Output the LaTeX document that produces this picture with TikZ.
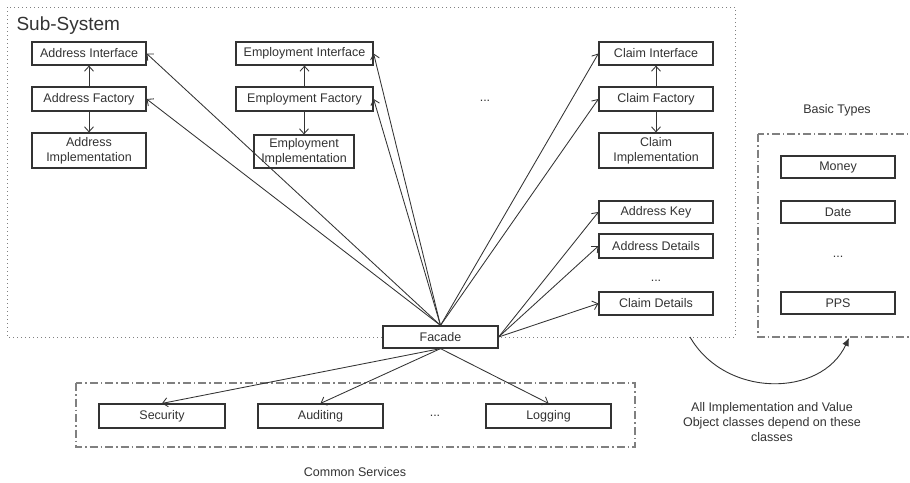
\documentclass[tikz,border=0pt]{standalone}
\usepackage{fontspec}
\setmainfont{Liberation Sans}
\usetikzlibrary{arrows.meta}
\definecolor{ink}{HTML}{333333}
\tikzset{
  box/.style={draw=ink, line width=1.2pt, fill=white, text=ink, inner sep=1pt, align=center,
    font=\fontsize{12.5}{15}\selectfont, minimum width=114pt, minimum height=23pt},
  lbl/.style={text=ink, align=center, font=\fontsize{12.5}{15}\selectfont},
  dep/.style={draw=ink, line width=0.85pt, -{Straight Barb[length=5pt,width=9pt]}},
  dotbox/.style={draw=gray, line width=1pt, dash pattern=on 1pt off 3pt},
  dashdot/.style={draw=gray, line width=1.2pt, dash pattern=on 8pt off 3pt on 1.5pt off 3pt}
}
\begin{document}
\begin{tikzpicture}[x=1pt, y=-1pt]
\useasboundingbox (0,0) rectangle (910,482);
\clip (0,0) rectangle (910,482);
\fill[white] (0,0) rectangle (910,482);
% containers
\draw[dotbox] (7,7) rectangle (735,337);
\draw[dashdot] (758,134) rectangle (930,337);
\draw[dashdot] (76,383) rectangle (635,447);
\node[lbl, font=\fontsize{19}{22}\selectfont, anchor=west] (subsys) at (13,26) {Sub-System};
\node[lbl] (basiclbl) at (837,110) {Basic Types};
\node[lbl] (commonlbl) at (355,472) {Common Services};
% sub-system nodes
\node[box] (addrI) at (89,53.5) {Address Interface};
\node[box, minimum height=24pt] (addrF) at (89,99) {Address Factory};
\node[box, minimum height=35pt] (addrImpl) at (89,150.5) {Address\\Implementation};
\node[box, minimum width=137pt] (empI) at (304.5,53.5) {Employment Interface};
\node[box, minimum width=137pt, minimum height=24pt] (empF) at (304.5,99) {Employment Factory};
\node[box, minimum width=100pt, minimum height=33pt] (empImpl) at (304,151.5) {Employment\\Implementation};
\node[lbl] (dotsA) at (485,101) {...};
\node[box] (claimI) at (656,53.5) {Claim Interface};
\node[box, minimum height=24pt] (claimF) at (656,99) {Claim Factory};
\node[box, minimum height=35pt] (claimImpl) at (656,150.5) {Claim\\Implementation};
\node[box, minimum height=22pt] (addrKey) at (656,212) {Address Key};
\node[box, minimum height=24pt] (addrDet) at (656,246) {Address Details};
\node[lbl] (dotsB) at (656,281) {...};
\node[box] (claimDet) at (656,303.5) {Claim Details};
\node[box, minimum width=115pt, minimum height=22pt] (facade) at (440.5,337) {Facade};
% basic types
\node[box, minimum height=22pt] (money) at (838,167) {Money};
\node[box, minimum height=22pt] (date) at (838,212) {Date};
\node[lbl] (dotsC) at (838,257) {...};
\node[box, minimum height=22pt] (pps) at (838,303) {PPS};
% common services
\node[box, minimum width=126pt, minimum height=24pt] (security) at (162,416) {Security};
\node[box, minimum width=125pt, minimum height=24pt] (auditing) at (320.5,416) {Auditing};
\node[lbl] (dotsD) at (435,416) {...};
\node[box, minimum width=125pt, minimum height=24pt] (logging) at (548.5,416) {Logging};
% factory arrows
\draw[dep] (addrF) -- (addrI);
\draw[dep] (addrF) -- (addrImpl);
\draw[dep] (empF) -- (empI);
\draw[dep] (empF.south -| empImpl.north) -- (empImpl);
\draw[dep] (claimF) -- (claimI);
\draw[dep] (claimF) -- (claimImpl);
% facade arrows
\draw[dep] (facade.north) -- (addrI.east);
\draw[dep] (facade.north) -- (addrF.east);
\draw[dep] (facade.north) -- (empI.east);
\draw[dep] (facade.north) -- (empF.east);
\draw[dep] (facade.north) -- (claimI.west);
\draw[dep] (facade.north) -- (claimF.west);
\draw[dep] (facade.east) -- (addrKey.west);
\draw[dep] (facade.east) -- (addrDet.west);
\draw[dep] (facade.east) -- (claimDet.west);
\draw[dep] (facade.south) -- (security.north);
\draw[dep] (facade.south) -- (auditing.north);
\draw[dep] (facade.south) -- (logging.north);
% dependency curve
\coordinate (cstart) at (690,337);
\coordinate (cend) at (849,338);
\draw[draw=ink, line width=0.9pt, -{Latex[length=8pt,width=7pt]}] (cstart) .. controls (725,398) and (821,398) .. (cend);
\node[lbl] (note) at (772,422) {All Implementation and Value\\Object classes depend on these\\classes};
\end{tikzpicture}
\end{document}
